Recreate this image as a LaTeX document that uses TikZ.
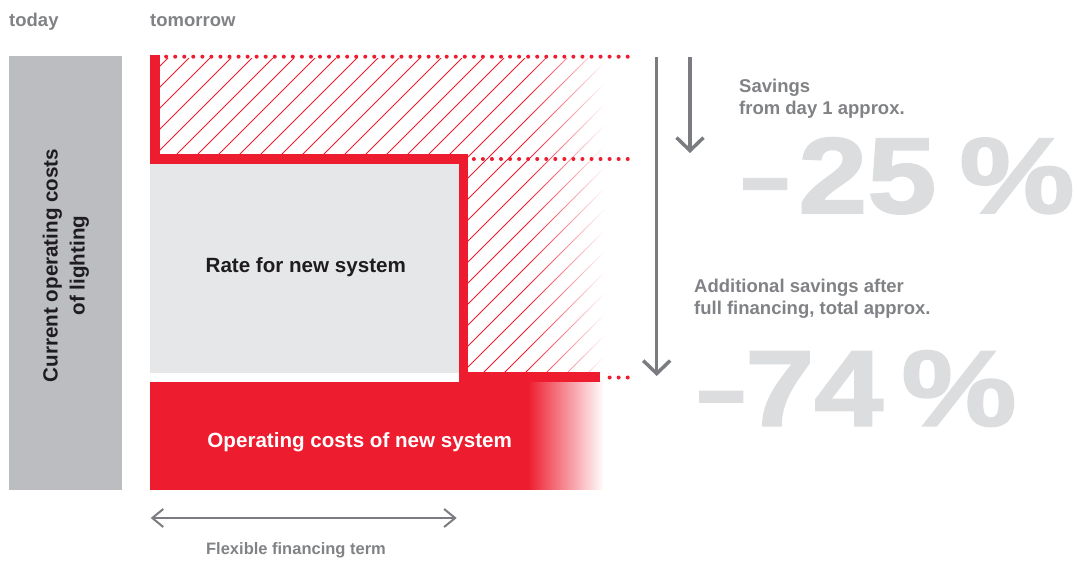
\documentclass[tikz,border=0pt]{standalone}
\usepackage{fontspec}
\setmainfont{Liberation Sans}
\newfontface\bigface[FakeBold=1.6]{Liberation Sans Bold}
\usetikzlibrary{arrows.meta}
\definecolor{myred}{RGB}{237,28,46}
\definecolor{txtgray}{RGB}{128,130,133}
\definecolor{arrgray}{RGB}{122,124,128}
\definecolor{bargray}{RGB}{188,189,192}
\definecolor{boxgray}{RGB}{230,231,232}
\definecolor{biggray}{RGB}{220,221,223}
\definecolor{txtblack}{RGB}{30,28,30}
\begin{document}
\begin{tikzpicture}[x=1pt,y=-1pt,
  lbl/.style={inner sep=0pt, anchor=base west, text=txtgray, font=\bfseries\fontsize{18.5}{22}\selectfont},
  bigtxt/.style={inner sep=0pt, anchor=base west, text=biggray, font=\bigface\fontsize{108}{108}\selectfont},
  darktxt/.style={inner sep=0pt, anchor=base, text=txtblack, font=\bfseries\fontsize{20.6}{24}\selectfont},
  whitetxt/.style={inner sep=0pt, anchor=base, text=white, font=\bfseries\fontsize{20.6}{24}\selectfont},
  smalltxt/.style={inner sep=0pt, anchor=base, text=txtgray, font=\bfseries\fontsize{16.5}{20}\selectfont},
  hatchline/.style={myred, line width=1pt},
  reddot/.style={fill=myred},
  grayarrow/.style={arrgray, line width=3.5pt, -{Straight Barb[length=13pt,width=27pt]}},
  termarrow/.style={arrgray, line width=2pt, {Straight Barb[length=11pt,width=18pt]}-{Straight Barb[length=11pt,width=18pt]}}
]
\useasboundingbox (0,0) rectangle (1079,563);

% today bar
\node[fill=bargray, inner sep=0pt, minimum width=113pt, minimum height=434pt, anchor=north west] (bar) at (9,56) {};
\node[darktxt, rotate=90] (cur1) at (57.5,265.5) {Current operating costs};
\node[darktxt, rotate=90] (cur2) at (84.5,265.5) {of lighting};

% hatching
\begin{scope}
  \clip (155,58) -- (612,58) -- (612,373) -- (463,373) -- (463,159) -- (155,159) -- cycle;
  \foreach \k in {-4,...,40} {
    \pgfmathsetmacro\c{247+21*\k}
    \draw[hatchline] (\c-40,40) -- (\c-420,420);
  }
\end{scope}
% fade of hatching
\foreach \i in {0,...,38} {
  \pgfmathsetmacro\xa{528+2*\i}
  \pgfmathsetmacro\op{(\i+1)/39}
  \fill[white, opacity=\op] (\xa,54) rectangle (\xa+2.05,373);
}
\fill[white] (606,54) rectangle (640,373);

% rate box
\node[fill=boxgray, inner sep=0pt, minimum width=309pt, minimum height=208.7pt, anchor=north west] (ratebox) at (150,164) {};
\node[darktxt] (rate) at (305.8,272.3) {Rate for new system};

% operating costs block
\fill[myred] (150,381.7) rectangle (528,489.5);
\shade[left color=myred, right color=white] (527.5,381.7) rectangle (604,489.5);
\node[whitetxt] (opcost) at (359.7,447.3) {Operating costs of new system};

% red step line
\draw[myred, line width=9.5pt] (155,55) -- (155,159) -- (463.5,159) -- (463.5,377.2) -- (600,377.2);

% dotted lines
\foreach \i in {0,...,51} { \fill[reddot] (627.7-9.05*\i,56.7) circle[radius=2pt]; }
\foreach \i in {0,...,17} { \fill[reddot] (627.7-9.05*\i,159) circle[radius=2pt]; }
\foreach \i in {0,...,2} { \fill[reddot] (627.7-9.05*\i,377.5) circle[radius=2pt]; }

% arrows
\coordinate (la1) at (656.7,56.7); \coordinate (la2) at (656.7,376);
\coordinate (sa1) at (690,56.7); \coordinate (sa2) at (690,153);
\coordinate (ha1) at (150.7,518); \coordinate (ha2) at (456.7,518);
\draw[grayarrow] (la1) -- (la2);
\draw[grayarrow] (sa1) -- (sa2);
\draw[termarrow] (ha1) -- (ha2);

% labels
\node[lbl] (today) at (9,26.7) {today};
\node[lbl] (tomorrow) at (150,26.7) {tomorrow};
\node[lbl] (sav1) at (739,92.3) {Savings};
\node[lbl] (sav2) at (739,114) {from day 1 approx.};
\node[lbl] (add1) at (694,292.3) {Additional savings after};
\node[lbl] (add2) at (694,314) {full financing, total approx.};
\node[bigtxt] (p25) at (741,213) {\scalebox{0.8}[1]{–}\hspace{9pt}\scalebox{1.15}[1]{25}\hspace{23pt}\scalebox{1.2}[1]{\%}};
\node[bigtxt] (p74) at (697,425.7) {\scalebox{0.8}[1]{–}\hspace{0pt}\scalebox{1.15}[1]{74}\hspace{18pt}\scalebox{1.2}[1]{\%}};
\node[smalltxt] (term) at (296,554) {Flexible financing term};
\end{tikzpicture}
\end{document}
